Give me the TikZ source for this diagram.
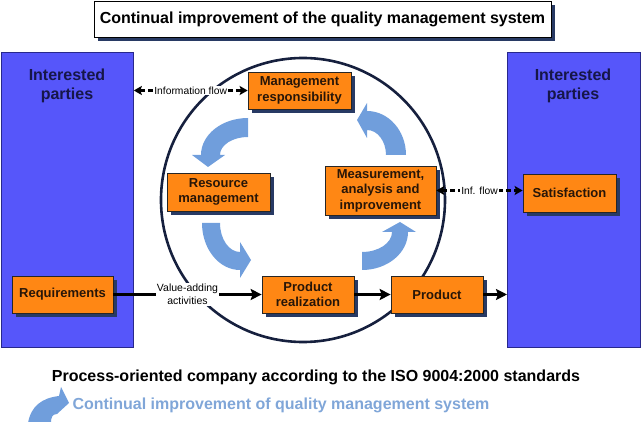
\documentclass[tikz,border=0pt]{standalone}
\usepackage{fontspec}
\setmainfont{Liberation Sans}
\usetikzlibrary{arrows.meta,shadows}

\definecolor{partyblue}{RGB}{86,86,250}
\definecolor{partyedge}{RGB}{40,40,140}
\definecolor{boxorange}{RGB}{255,135,20}
\definecolor{shadowblue}{RGB}{40,58,100}
\definecolor{cyclearrow}{RGB}{112,158,220}
\definecolor{ringnavy}{RGB}{22,32,62}
\definecolor{legendblue}{RGB}{128,166,216}
\definecolor{textnavy}{RGB}{22,22,72}
\definecolor{textdark}{RGB}{40,22,8}

\tikzset{
 party/.style={draw=partyedge, fill=partyblue, line width=0.8pt, inner sep=0pt},
 partytext/.style={align=center, text=textnavy, font=\fontsize{16}{19.5}\selectfont\bfseries},
 obox/.style={draw=black!85, fill=boxorange, line width=0.7pt, align=center, text=textdark,
   font=\fontsize{13}{15.5}\selectfont\bfseries, inner sep=0pt,
   drop shadow={shadow xshift=4pt, shadow yshift=-4pt, fill=shadowblue, opacity=1}},
 titlebox/.style={draw=black, fill=white, line width=0.8pt, inner sep=0pt,
   font=\fontsize{16}{19}\selectfont\bfseries,
   drop shadow={shadow xshift=4pt, shadow yshift=-4pt, fill=shadowblue, opacity=1}},
 flowlabel/.style={fill=white, inner sep=1pt, font=\fontsize{10.3}{12}\selectfont},
 dashflow/.style={line width=2.4pt, dash pattern=on 5pt off 3pt,
   {Stealth[length=8pt,width=9pt,inset=1.5pt]}-{Stealth[length=8pt,width=9pt,inset=1.5pt]}},
 solidflow/.style={line width=2.4pt, -{Stealth[length=11pt,width=11pt,inset=2pt]}},
 cyc/.style={fill=cyclearrow},
 legendarrow/.style={fill=cyclearrow},
}

\begin{document}
\begin{tikzpicture}[x=1pt,y=-1pt]
\useasboundingbox (0,0) rectangle (641,422);

% interested parties
\node[party, minimum width=132pt, minimum height=295pt, anchor=north west] (lparty) at (1,52) {};
\node[party, minimum width=133pt, minimum height=295pt, anchor=north west] (rparty) at (507,52) {};
\node[partytext] (ltxt) at (67,86) {Interested\\parties};
\node[partytext] (rtxt) at (573,86) {Interested\\parties};

% title
\node[titlebox, minimum width=457pt, minimum height=36pt] (title) at (322.5,19)
  {Continual improvement of the quality management system};

% ring
\draw[ringnavy, line width=2.6pt] (303,200) circle[radius=142];

% cycle arrows
\fill[cyc] (248,118) arc[start angle=-90, end angle=-180, x radius=47, y radius=37]
  -- (192,155) -- (208,167) -- (225,155) -- (220,155)
  arc[start angle=180, end angle=270, x radius=28, y radius=18] -- cycle;
\fill[cyc] (202,223) arc[start angle=180, end angle=90, x radius=38, y radius=47]
  -- (240,278) -- (251,260) -- (240,242) -- (240,252)
  arc[start angle=90, end angle=180, x radius=20, y radius=29] -- cycle;
\fill[cyc] (362,270) arc[start angle=90, end angle=0, x radius=46, y radius=38]
  -- (416,232) -- (400,222) -- (382,232) -- (392,232)
  arc[start angle=0, end angle=90, x radius=30, y radius=20] -- cycle;
\fill[cyc] (406,155) arc[start angle=0, end angle=-90, x radius=39, y radius=44]
  -- (367,103) -- (357,120) -- (367,138) -- (367,130)
  arc[start angle=-90, end angle=0, x radius=19, y radius=25] -- cycle;

% boxes
\node[obox, minimum width=101pt, minimum height=37pt] (req)  at (62.5,294.5) {Requirements};
\node[obox, minimum width=103pt, minimum height=38pt] (res)  at (218.5,192) {Resource\\management};
\node[obox, minimum width=103pt, minimum height=37pt] (mgmt) at (299.5,90.5) {Management\\responsibility};
\node[obox, minimum width=111pt, minimum height=49pt] (meas) at (380.5,190.5) {Measurement,\\analysis and\\improvement};
\node[obox, minimum width=92pt, minimum height=37pt]  (real) at (308,294.5) {Product\\realization};
\node[obox, minimum width=92pt, minimum height=37pt]  (prod) at (437,294.5) {Product};
\node[obox, minimum width=93pt, minimum height=38pt]  (sat)  at (569.5,193) {Satisfaction};

% connectors
\draw[dashflow] (lparty.east |- mgmt.west) -- (mgmt.west)
  node[midway, flowlabel] (infolbl) {Information flow};
\draw[dashflow] (meas.east) -- (meas.east -| sat.west)
  node[midway, flowlabel] (inflbl) {Inf. flow};
\draw[solidflow] (req.east) -- (real.west)
  node[midway, flowlabel, align=center, font=\fontsize{10.5}{13}\selectfont] (valbl) {Value-adding\\activities};
\draw[solidflow] (real.east) -- (prod.west);
\draw[solidflow] (prod.east) -- (prod.east -| rparty.west);

% bottom texts
\node[font=\fontsize{16}{19}\selectfont\bfseries] (caption) at (316,377)
  {Process-oriented company according to the ISO 9004:2000 standards};
\node[font=\fontsize{16}{19}\selectfont\bfseries, text=legendblue] (legend) at (281,405)
  {Continual improvement of quality management system};
\begin{scope}
\clip (0,0) rectangle (641,422);
\fill[legendarrow] (28,423) .. controls (31,406) and (42,398) .. (59,396)
  -- (61,387) -- (69,403) -- (57,414)
  .. controls (52,414) and (51,418) .. (51,423) -- cycle;
\end{scope}
\end{tikzpicture}
\end{document}
